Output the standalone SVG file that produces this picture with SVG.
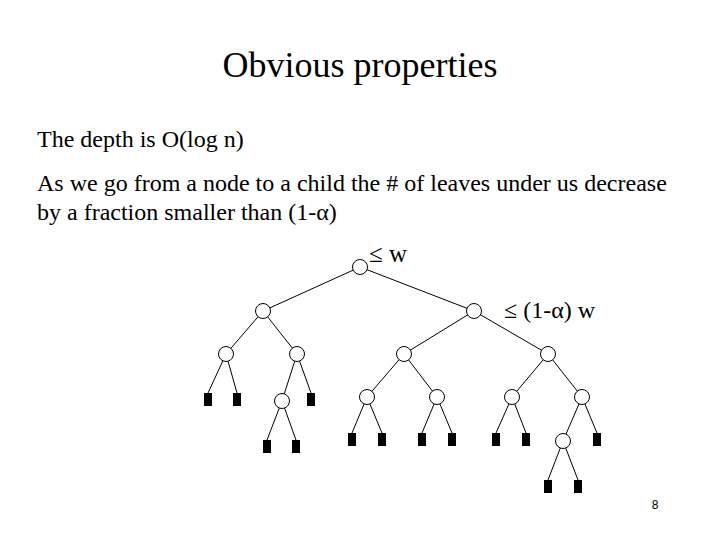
<svg xmlns="http://www.w3.org/2000/svg" width="720" height="540" viewBox="0 0 720 540">
<style>
text{font-family:"Liberation Serif","Times New Roman",serif;fill:#000}
.e line{stroke:#000;stroke-width:1}
.n circle{fill:#fff;stroke:#000;stroke-width:1}
.l rect{fill:#000}
</style>
<rect width="720" height="540" fill="#fff"/>
<text x="360" y="77" font-size="36" text-anchor="middle">Obvious properties</text>
<text x="37" y="147" font-size="24">The depth is O(log n)</text>
<text x="37" y="191" font-size="24">As we go from a node to a child the # of leaves under us decrease</text>
<text x="37" y="220" font-size="24">by a fraction smaller than (1-α)</text>
<text x="369" y="262" font-size="25">≤ w</text>
<text x="504" y="318" font-size="24">≤ (1-α) w</text>
<text x="655" y="509" font-size="12" text-anchor="middle" style="font-family:'Liberation Sans',Arial,sans-serif">8</text>
<g class="e" id="connectors">
<line x1="360" y1="267" x2="263" y2="311"/>
<line x1="360" y1="267" x2="474" y2="311"/>
<line x1="263" y1="311" x2="226" y2="354"/>
<line x1="263" y1="311" x2="297" y2="354"/>
<line x1="474" y1="311" x2="404" y2="354"/>
<line x1="474" y1="311" x2="548" y2="354"/>
<line x1="226" y1="354" x2="208" y2="393"/>
<line x1="226" y1="354" x2="237" y2="393"/>
<line x1="297" y1="354" x2="282" y2="401"/>
<line x1="297" y1="354" x2="311" y2="393"/>
<line x1="282" y1="401" x2="267" y2="440"/>
<line x1="282" y1="401" x2="296" y2="440"/>
<line x1="404" y1="354" x2="367" y2="397"/>
<line x1="404" y1="354" x2="437" y2="397"/>
<line x1="548" y1="354" x2="512" y2="397"/>
<line x1="548" y1="354" x2="582" y2="397"/>
<line x1="367" y1="397" x2="352" y2="433"/>
<line x1="367" y1="397" x2="382" y2="433"/>
<line x1="437" y1="397" x2="422" y2="433"/>
<line x1="437" y1="397" x2="452" y2="433"/>
<line x1="512" y1="397" x2="496" y2="433"/>
<line x1="512" y1="397" x2="526" y2="433"/>
<line x1="582" y1="397" x2="563" y2="441"/>
<line x1="582" y1="397" x2="597" y2="433"/>
<line x1="563" y1="441" x2="548" y2="480"/>
<line x1="563" y1="441" x2="578" y2="480"/>
</g>
<g class="n">
<g id="n-root"><circle cx="360" cy="267" r="7.5"/></g>
<g id="n-l"><circle cx="263" cy="311" r="7.5"/></g>
<g id="n-r"><circle cx="474" cy="311" r="7.5"/></g>
<g id="n-ll"><circle cx="226" cy="354" r="7.5"/></g>
<g id="n-lr"><circle cx="297" cy="354" r="7.5"/></g>
<g id="n-rl"><circle cx="404" cy="354" r="7.5"/></g>
<g id="n-rr"><circle cx="548" cy="354" r="7.5"/></g>
<g id="n-lrl"><circle cx="282" cy="401" r="7.5"/></g>
<g id="n-rll"><circle cx="367" cy="397" r="7.5"/></g>
<g id="n-rlr"><circle cx="437" cy="397" r="7.5"/></g>
<g id="n-rrl"><circle cx="512" cy="397" r="7.5"/></g>
<g id="n-rrr"><circle cx="582" cy="397" r="7.5"/></g>
<g id="n-rrrl"><circle cx="563" cy="441" r="7.5"/></g>
</g>
<g class="l">
<g id="leaf1"><rect x="204" y="393" width="8" height="13"/></g>
<g id="leaf2"><rect x="233" y="393" width="8" height="13"/></g>
<g id="leaf3"><rect x="307" y="393" width="8" height="13"/></g>
<g id="leaf4"><rect x="263" y="440" width="8" height="13"/></g>
<g id="leaf5"><rect x="292" y="440" width="8" height="13"/></g>
<g id="leaf6"><rect x="348" y="433" width="8" height="13"/></g>
<g id="leaf7"><rect x="378" y="433" width="8" height="13"/></g>
<g id="leaf8"><rect x="418" y="433" width="8" height="13"/></g>
<g id="leaf9"><rect x="448" y="433" width="8" height="13"/></g>
<g id="leaf10"><rect x="492" y="433" width="8" height="13"/></g>
<g id="leaf11"><rect x="522" y="433" width="8" height="13"/></g>
<g id="leaf12"><rect x="593" y="433" width="8" height="13"/></g>
<g id="leaf13"><rect x="544" y="480" width="8" height="13"/></g>
<g id="leaf14"><rect x="574" y="480" width="8" height="13"/></g>
</g>
</svg>
